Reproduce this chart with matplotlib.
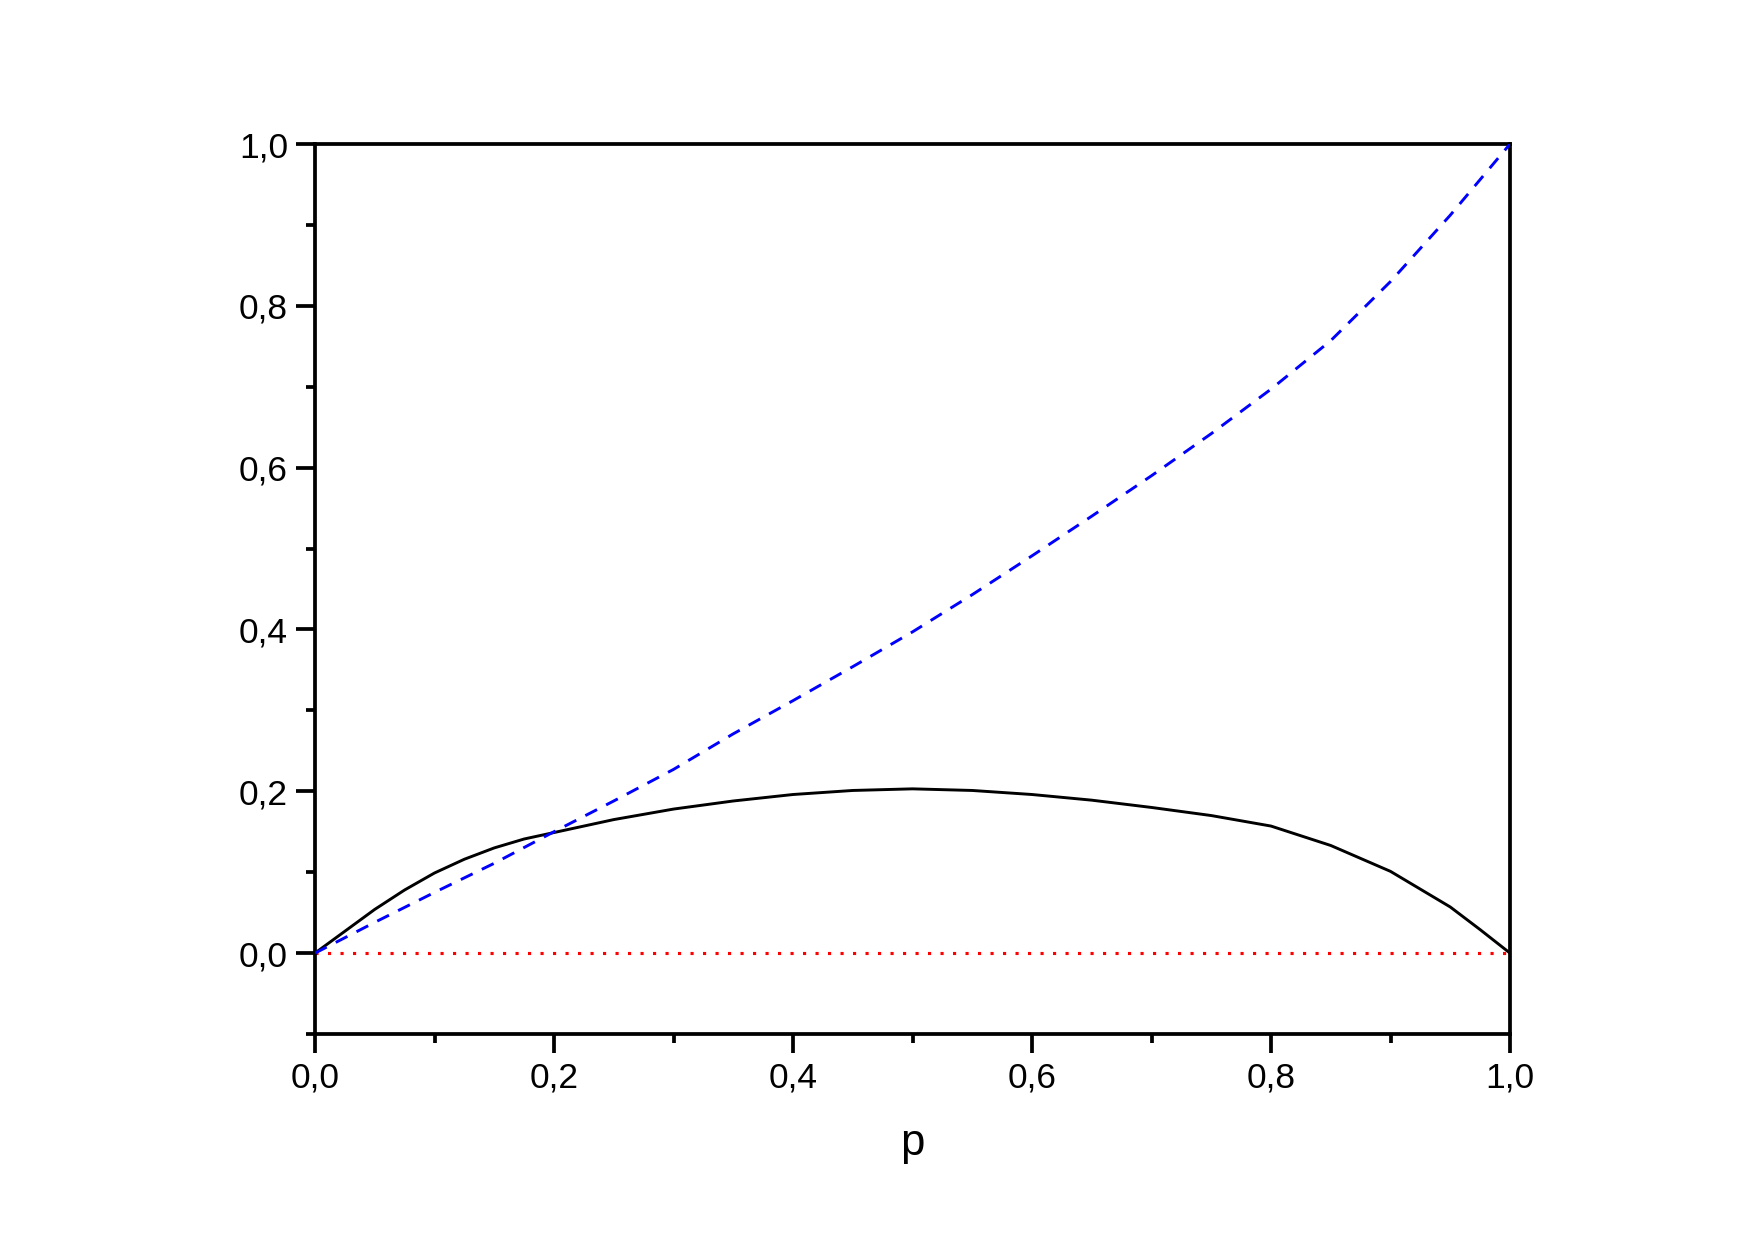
import matplotlib
matplotlib.use("Agg")
import matplotlib.pyplot as plt
from matplotlib.ticker import FixedLocator, FuncFormatter

# data
p_black = [0.0, 0.025, 0.05, 0.075, 0.1, 0.125, 0.15, 0.175, 0.2, 0.25, 0.3, 0.35,
           0.4, 0.45, 0.5, 0.55, 0.6, 0.65, 0.7, 0.75, 0.8, 0.85, 0.9, 0.95, 0.975, 1.0]
y_black = [0.0, 0.027, 0.054, 0.078, 0.099, 0.116, 0.130, 0.141, 0.149, 0.165, 0.178, 0.188,
           0.196, 0.201, 0.203, 0.201, 0.196, 0.189, 0.180, 0.170, 0.157, 0.133, 0.101, 0.057, 0.029, 0.0]

p_blue = [0.0, 0.05, 0.1, 0.15, 0.2, 0.25, 0.3, 0.35, 0.4, 0.45, 0.5, 0.55, 0.6, 0.65,
          0.7, 0.75, 0.8, 0.85, 0.9, 0.95, 1.0]
y_blue = [0.0, 0.038, 0.075, 0.111, 0.150, 0.188, 0.227, 0.271, 0.312, 0.354, 0.397, 0.443,
          0.491, 0.540, 0.590, 0.642, 0.697, 0.757, 0.830, 0.912, 1.0]

p_red = [0.0, 1.0]
y_red = [0.0, 0.0]

x_major = [0.0, 0.2, 0.4, 0.6, 0.8, 1.0]
x_minor = [0.1, 0.3, 0.5, 0.7, 0.9]
y_major = [0.0, 0.2, 0.4, 0.6, 0.8, 1.0]
y_minor = [-0.1, 0.1, 0.3, 0.5, 0.7, 0.9]
x_label = "p"

plt.rcParams['font.family'] = ['Liberation Sans', 'DejaVu Sans']

fig = plt.figure(figsize=(1755 / 150, 1240 / 150), dpi=150)
ax = fig.add_axes([315 / 1755, 1 - 1034 / 1240, (1510 - 315) / 1755, (1034 - 144) / 1240])

ax.plot(p_red, y_red, color='#ff0000', lw=1.5, linestyle=(0, (1, 3.0)), zorder=2)
ax.plot(p_black, y_black, color='black', lw=1.4, zorder=3)
ax.plot(p_blue, y_blue, color='#0000ff', lw=1.4, linestyle=(0, (4.5, 3.5)), zorder=4)

ax.set_xlim(0, 1.0)
ax.set_ylim(-0.1, 1.0)

fmt = FuncFormatter(lambda v, pos: f"{v:.1f}".replace('.', ','))
ax.xaxis.set_major_locator(FixedLocator(x_major))
ax.xaxis.set_minor_locator(FixedLocator(x_minor))
ax.yaxis.set_major_locator(FixedLocator(y_major))
ax.yaxis.set_minor_locator(FixedLocator(y_minor))
ax.xaxis.set_major_formatter(fmt)
ax.yaxis.set_major_formatter(fmt)

for s in ax.spines.values():
    s.set_linewidth(1.8)
ax.tick_params(which='major', direction='out', length=9, width=1.8, labelsize=17, pad=4,
               top=False, right=False)
ax.tick_params(which='minor', direction='out', length=4.5, width=1.8, top=False, right=False)

ax.set_xlabel(x_label, fontsize=21, labelpad=14)

fig.savefig("out.png", dpi=150)
